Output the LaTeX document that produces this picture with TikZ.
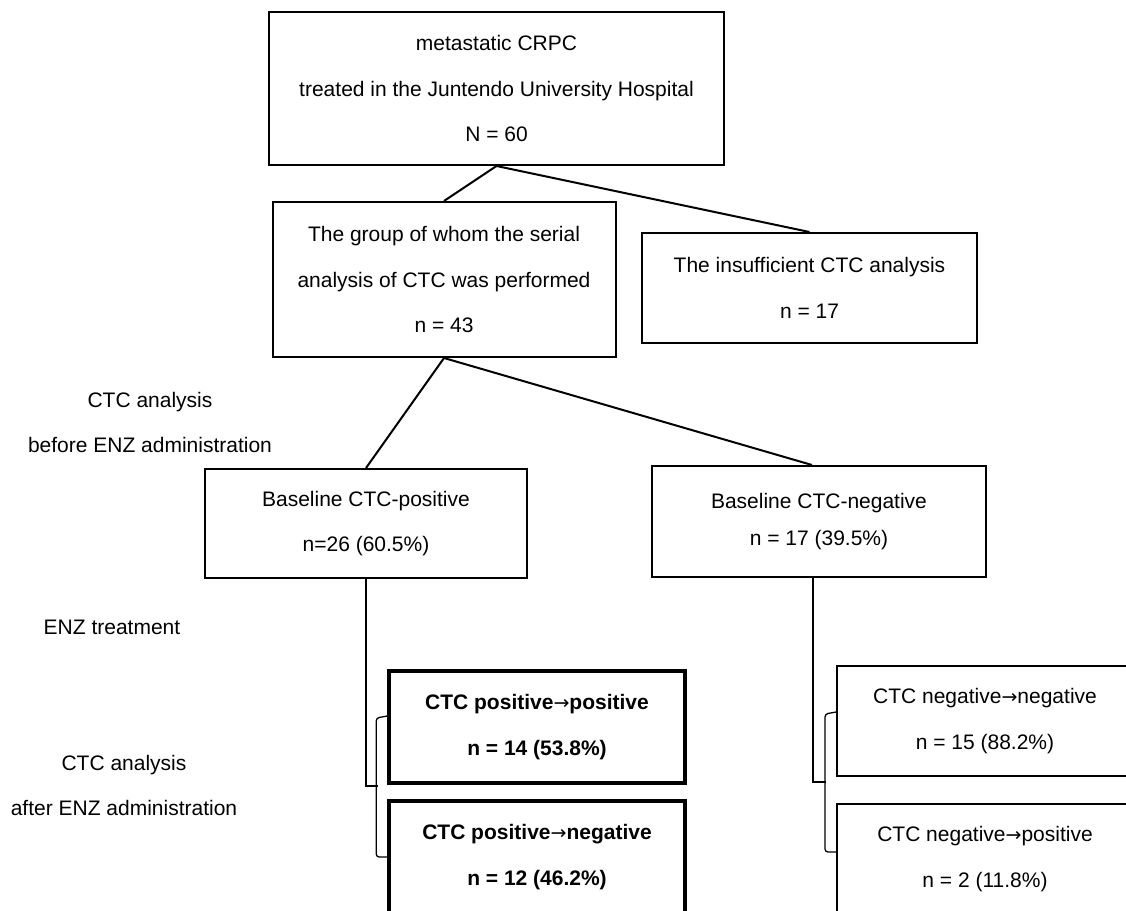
\documentclass[tikz,border=0pt]{standalone}
\usepackage{fontspec}
\setmainfont{Liberation Sans}
\newfontfamily\arrowfont{DejaVu Sans}
\usepackage{tikz}
\newcommand{\tto}{{\arrowfont\mdseries\fontsize{19}{19}\selectfont →}}

\begin{document}
\begin{tikzpicture}[-,x=1pt,y=-1pt,
  main node/.style={draw,line width=2pt,align=center,inner sep=0pt,
    font=\fontsize{21}{45.5}\selectfont},
  bold node/.style={main node,line width=3.6pt,
    font=\bfseries\fontsize{21}{46}\selectfont},
  side node/.style={align=center,inner sep=0pt,font=\fontsize{21}{45}\selectfont},
  link/.style={line width=2pt},
  brace/.style={line width=1.3pt,rounded corners=3pt}]
  \useasboundingbox (0,0) rectangle (1126,910);
  \clip (0,0) rectangle (1126,910);

  \node[main node,minimum width=455pt,minimum height=153pt] (all) at (496.5,88.5)
    {metastatic CRPC\\treated in the Juntendo University Hospital\\N = 60};
  \node[main node,minimum width=343pt,minimum height=155pt] (grp) at (444,279.5)
    {The group of whom the serial\\analysis of CTC was performed\\n = 43};
  \node[main node,minimum width=335pt,minimum height=110pt] (ins) at (809.5,288)
    {The insufficient CTC analysis\\n = 17};
  \node[main node,minimum width=322pt,minimum height=109pt] (pos) at (366,523.5)
    {Baseline CTC-positive\\n=26 (60.5\%)};
  \node[main node,minimum width=334pt,minimum height=111pt] (neg) at (819,521.5)
    {Baseline CTC-negative\\[-9pt]n = 17 (39.5\%)};
  \node[bold node,minimum width=296pt,minimum height=112pt] (pp) at (537,727)
    {CTC positive\tto positive\\n = 14 (53.8\%)};
  \node[bold node,minimum width=296pt,minimum height=112pt] (pn) at (537,857)
    {CTC positive\tto negative\\n = 12 (46.2\%)};
  \node[main node,minimum width=296pt,minimum height=110pt] (nn) at (985,721)
    {CTC negative\tto negative\\n = 15 (88.2\%)};
  \node[main node,minimum width=296pt,minimum height=110pt] (np) at (985,859)
    {CTC negative\tto positive\\n = 2 (11.8\%)};

  % labels on the left
  \node[side node] (before) at (150,422) {CTC analysis\\before ENZ administration};
  \node[side node] (treat) at (112,627) {ENZ treatment};
  \node[side node] (after) at (124,785.5) {CTC analysis\\after ENZ administration};

  \coordinate (pj) at (378,786);
  \coordinate (nj) at (826,782);

  \path[link]
    (all.south) edge (grp.north)
    (all.south) edge (ins.north)
    (grp.south) edge (pos.north)
    (grp.south) edge ([xshift=-7pt]neg.north);
  \draw[link] (pos.south) |- (pj);
  \draw[link] ([xshift=-6pt]neg.south) |- (nj);

  % brackets
  \draw[brace] ([yshift=11pt]pp.west) -- ++(-11,2) |- (pn.west);
  \draw[brace] ([yshift=9pt]nn.west) -- ++(-11,2) |- ([yshift=7pt]np.west);
\end{tikzpicture}
\end{document}
